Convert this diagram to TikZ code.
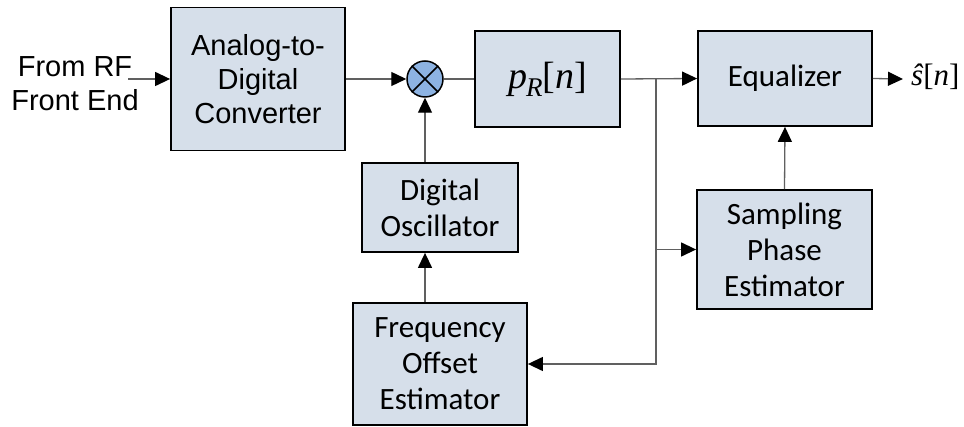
\documentclass[tikz,border=0pt]{standalone}
\usepackage{fontspec}
\setmainfont{Liberation Sans}
\newfontfamily\calibri{Carlito}
\newfontfamily\tms{Liberation Serif}
\usetikzlibrary{arrows.meta,calc}
\begin{document}
\begin{tikzpicture}[x=1pt,y=-1pt,
  blk/.style={draw=black,line width=1.8pt,fill=boxfill,rectangle,inner sep=0pt,align=center},
  arial/.style={font=\fontsize{29}{34}\selectfont},
  cal/.style={font=\calibri\fontsize{31}{36}\selectfont},
  wire/.style={draw=wiregray,line width=1.3pt},
  sig/.style={wire,-{Triangle[length=15pt,width=14pt,color=black,fill=black]}}]
\definecolor{boxfill}{HTML}{D6DFEA}
\definecolor{multfill}{HTML}{8DB3E2}
\definecolor{wiregray}{HTML}{606060}
\useasboundingbox (0,0) rectangle (964,427);

% processing blocks
\node[blk,arial,minimum width=174pt,minimum height=143pt] (adc) at (258,79) {Analog-to-\\Digital\\Converter};
\node[draw=black,line width=1.5pt,fill=multfill,circle,minimum size=36pt,inner sep=0pt] (mult) at (425,79) {};
\draw[black,line width=1.5pt] (mult.45) -- (mult.225) (mult.135) -- (mult.315);
\node[blk,minimum width=145pt,minimum height=96pt] (pr) at (547.5,79)
  {\tms\fontsize{38}{38}\selectfont\itshape p\kern-1pt\raisebox{-8pt}{\fontsize{27}{27}\selectfont R}\upshape[\itshape n\upshape]};
\node[blk,cal,minimum width=174pt,minimum height=95pt] (eq) at (785,78.5) {Equalizer};
\node[blk,cal,minimum width=175pt,minimum height=119pt] (spe) at (784.5,249.5) {Sampling\\Phase\\Estimator};
\node[blk,cal,minimum width=156pt,minimum height=89pt] (osc) at (440,207.5) {Digital\\Oscillator};
\node[blk,cal,minimum width=174pt,minimum height=122pt] (foe) at (440,364) {Frequency\\Offset\\Estimator};

% input and output
\node[arial,align=center] (src) at (75,83.5) {From RF\\Front End};
\coordinate (in) at (128,79);
\coordinate (out) at (903,79);
\node[anchor=west,inner sep=0pt] (shat) at (911,77) {\tms\fontsize{31}{31}\selectfont\itshape ŝ\upshape[\itshape n\upshape]};
\coordinate (j) at (656,79);

% signal flow
\draw[sig] (in) -- (adc.west);
\draw[sig] (adc.east) -- (mult.west);
\draw[wire] (mult.east) -- (pr.west);
\draw[sig] (pr.east) -- (eq.west);
\draw[sig] (eq.east) -- (out);
\draw[sig] (j |- spe.west) -- (spe.west);
\draw[sig] (j) -- (j |- foe.east) -- (foe.east);
\draw[sig] (spe.north) -- (eq.south);
\draw[sig] (foe.north -| mult.south) -- (osc.south -| mult.south);
\draw[sig] (osc.north -| mult.south) -- (mult.south);
\end{tikzpicture}
\end{document}
